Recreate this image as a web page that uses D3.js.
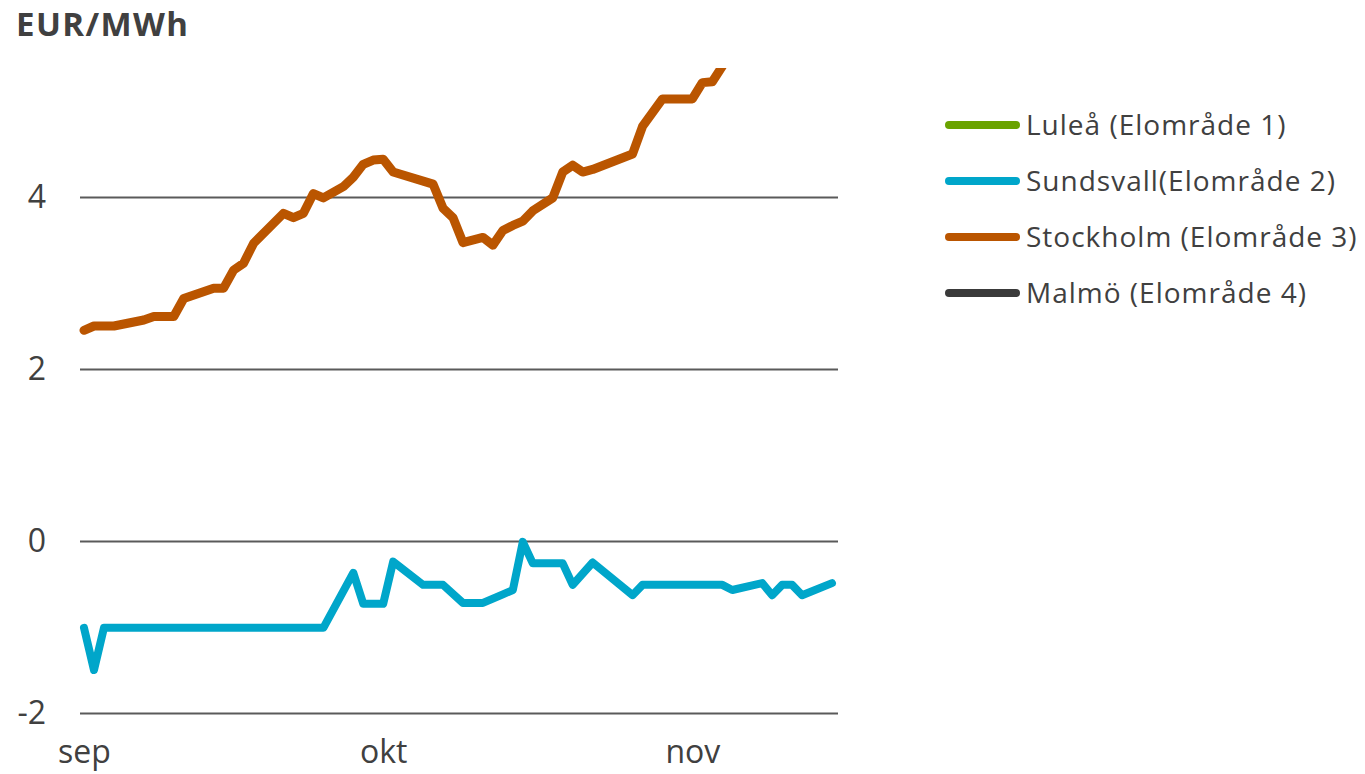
<!DOCTYPE html>
<html>
<head>
<meta charset="utf-8">
<script src="https://cdn.jsdelivr.net/npm/d3@7/dist/d3.min.js"></script>
<style>
  html, body { margin: 0; padding: 0; background: #ffffff; }
  svg { display: block; }
  text { font-family: "Open Sans", "Noto Sans", sans-serif; fill: #404040; }
</style>
</head>
<body>
<svg id="chart" width="1365" height="774"></svg>
<script>
// Day offsets from 1 September, and price spread in EUR/MWh
const startDate = new Date(2020, 8, 1);
const endDate = new Date(2020, 10, 15);

const stockholmDays = [0, 1, 3, 6, 7, 9, 10, 13, 14, 15, 16, 17, 20, 21, 22, 23, 24, 26, 27, 28, 29, 30, 31,
  35, 36, 37, 38, 40, 41, 42, 43, 44, 45, 47, 48, 49, 50, 51, 55, 56, 57, 58, 61, 62, 63, 64, 65];
const stockholmValues = [2.45, 2.50, 2.50, 2.57, 2.61, 2.61, 2.82, 2.94, 2.94, 3.15, 3.23, 3.46, 3.81, 3.76, 3.81,
  4.04, 3.99, 4.12, 4.23, 4.38, 4.43, 4.44, 4.29, 4.15, 3.87, 3.76, 3.47, 3.53, 3.44, 3.61, 3.67, 3.72, 3.84,
  3.99, 4.29, 4.37, 4.29, 4.32, 4.50, 4.82, 4.98, 5.14, 5.14, 5.33, 5.34, 5.52, 5.75];

const sundsvallDays = [0, 1, 2, 24, 27, 28, 30, 31, 34, 36, 38, 40, 42, 43, 44, 45, 48, 49, 51, 55, 56,
  64, 65, 68, 69, 70, 71, 72, 75];
const sundsvallValues = [-1.01, -1.50, -1.01, -1.01, -0.37, -0.73, -0.73, -0.24, -0.51, -0.51, -0.72, -0.72,
  -0.62, -0.57, -0.01, -0.26, -0.26, -0.51, -0.25, -0.63, -0.51, -0.51, -0.57, -0.49, -0.63, -0.51, -0.51,
  -0.63, -0.49];

const seriesNames = ["Luleå (Elområde 1)", "Sundsvall(Elområde 2)", "Stockholm (Elområde 3)", "Malmö (Elområde 4)"];
const seriesColors = ["#6AA300", "#00A6CA", "#BA5500", "#3A3A3A"];

const yTicks = [-2, 0, 2, 4];
const monthTicks = [new Date(2020, 8, 1), new Date(2020, 9, 1), new Date(2020, 10, 1)];
const monthLabels = ["sep", "okt", "nov"];

const svg = d3.select("#chart");
const plot = { left: 80, right: 838, top: 68, bottom: 713 };

const x = d3.scaleTime().domain([startDate, endDate]).range([84, 832]);
const y = d3.scaleLinear().domain([-2, 5.5]).range([plot.bottom, plot.top]);

const dayToDate = d => d3.timeDay.offset(startDate, d);

// Horizontal gridlines with value labels
const yAxis = d3.axisLeft(y)
  .tickValues(yTicks)
  .tickSize(-(plot.right - plot.left))
  .tickPadding(34)
  .tickFormat(d => d < 0 ? "-" + Math.abs(d) : d);

const gy = svg.append("g")
  .attr("transform", `translate(${plot.left},0)`)
  .call(yAxis);
gy.select(".domain").remove();
gy.selectAll(".tick line").attr("stroke", "#5a5a5a").attr("stroke-width", 2);
gy.selectAll(".tick text")
  .attr("font-size", 32)
  .attr("fill", "#404040")
  .style("font-family", "'Open Sans', sans-serif");

// Month labels along the bottom
const xAxis = d3.axisBottom(x)
  .tickValues(monthTicks)
  .tickSize(0)
  .tickPadding(0)
  .tickFormat((d, i) => monthLabels[i]);
const gx = svg.append("g")
  .attr("transform", `translate(0,${plot.bottom + 27})`)
  .call(xAxis);
gx.select(".domain").remove();
gx.selectAll(".tick text")
  .attr("font-size", 32)
  .attr("fill", "#404040")
  .style("font-family", "'Open Sans', sans-serif");

// Unit title
svg.append("text")
  .attr("x", 16)
  .attr("y", 36)
  .attr("font-size", 33)
  .attr("font-weight", "bold")
  .attr("letter-spacing", 1.4)
  .attr("fill", "#404040")
  .text("EUR/MWh");

// Clip keeps the lines inside the value range
svg.append("clipPath").attr("id", "plot-clip")
  .append("rect")
  .attr("x", 0).attr("y", plot.top)
  .attr("width", 1365).attr("height", 774 - plot.top);

const line = d3.line()
  .x(d => x(d.date))
  .y(d => y(d.value));

const toPoints = (days, values) => days.map((d, i) => ({ date: dayToDate(d), value: values[i] }));

const lines = svg.append("g").attr("clip-path", "url(#plot-clip)");
lines.append("path")
  .datum(toPoints(sundsvallDays, sundsvallValues))
  .attr("fill", "none")
  .attr("stroke", seriesColors[1])
  .attr("stroke-width", 8)
  .attr("stroke-linejoin", "round")
  .attr("stroke-linecap", "round")
  .attr("d", line);
lines.append("path")
  .datum(toPoints(stockholmDays, stockholmValues))
  .attr("fill", "none")
  .attr("stroke", seriesColors[2])
  .attr("stroke-width", 9)
  .attr("stroke-linejoin", "round")
  .attr("stroke-linecap", "round")
  .attr("d", line);

// Legend
const legend = svg.append("g");
const item = legend.selectAll("g")
  .data(seriesNames)
  .join("g")
  .attr("transform", (d, i) => `translate(0,${125 + i * 56})`);
item.append("line")
  .attr("x1", 949).attr("x2", 1016)
  .attr("y1", 0).attr("y2", 0)
  .attr("stroke", (d, i) => seriesColors[i])
  .attr("stroke-width", 8)
  .attr("stroke-linecap", "round");
item.append("text")
  .attr("x", 1026)
  .attr("y", 0)
  .attr("dy", "0.36em")
  .attr("font-size", 28)
  .attr("letter-spacing", 1)
  .attr("fill", "#404040")
  .text(d => d);
</script>
</body>
</html>
